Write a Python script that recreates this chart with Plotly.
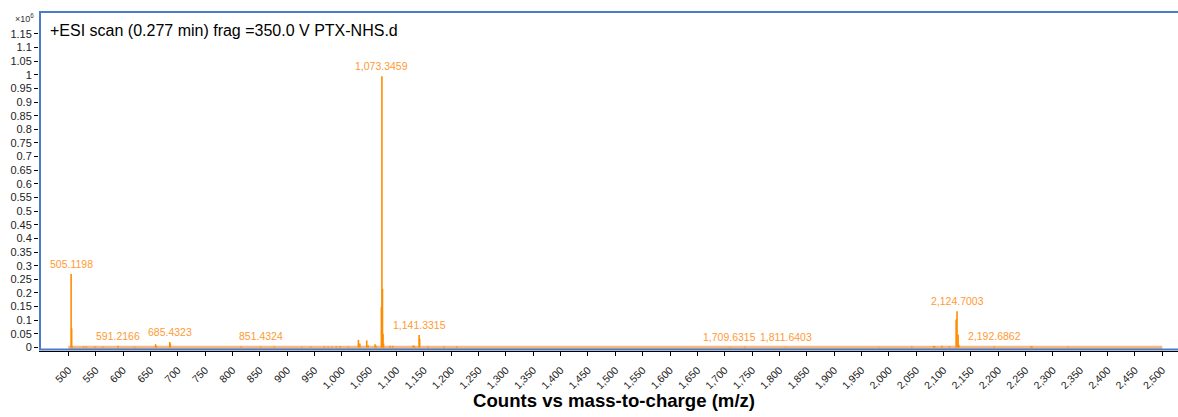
import plotly.graph_objects as go

# ---- data (counts in units of 1e6) ----
peak_mz = [505.1198, 506.12, 507.1, 528, 533, 549, 563, 591.2166, 621, 659.5, 661,
           685.4323, 686.43, 816, 851.4324, 876.8, 926.8, 943, 968, 975, 982, 990,
           996.8, 1012, 1030.3, 1033, 1045.5, 1048, 1060.7, 1062.5, 1072.34,
           1073.3459, 1074.35, 1075.35, 1076.35, 1088, 1093, 1130.7, 1133,
           1141.3315, 1142.33, 1158, 1187, 1210, 1709.6315, 1736.5, 1811.6403,
           1983, 2042, 2082, 2084, 2097, 2111, 2123.1, 2124.7003, 2126.7, 2128,
           2192.6862, 2260, 2262, 2327.7]
peak_int = [0.27, 0.07, 0.005, 0.004, 0.004, 0.004, 0.003, 0.006, 0.003, 0.012, 0.005,
            0.02, 0.015, 0.004, 0.004, 0.004, 0.003, 0.004, 0.004, 0.004, 0.004, 0.004,
            0.005, 0.004, 0.028, 0.015, 0.026, 0.008, 0.012, 0.006, 0.148,
            0.995, 0.215, 0.05, 0.015, 0.006, 0.006, 0.008, 0.005,
            0.046, 0.032, 0.004, 0.004, 0.004, 0.002, 0.003, 0.002,
            0.002, 0.004, 0.006, 0.005, 0.006, 0.005, 0.103, 0.133, 0.048, 0.01,
            0.004, 0.005, 0.004, 0.003]

label_mz = [505.1198, 591.2166, 685.4323, 851.4324, 1073.3459, 1141.3315,
            1709.6315, 1811.6403, 2124.7003, 2192.6862]
label_int = [0.27, 0.006, 0.02, 0.004, 0.995, 0.046, 0.002, 0.002, 0.133, 0.004]
label_text = ["505.1198", "591.2166", "685.4323", "851.4324", "1,073.3459",
              "1,141.3315", "1,709.6315", "1,811.6403", "2,124.7003", "2,192.6862"]

baseline_mz = [500, 2500]
baseline_int = [0, 0]

xtick_vals = [500, 550, 600, 650, 700, 750, 800, 850, 900, 950, 1000, 1050, 1100,
              1150, 1200, 1250, 1300, 1350, 1400, 1450, 1500, 1550, 1600, 1650,
              1700, 1750, 1800, 1850, 1900, 1950, 2000, 2050, 2100, 2150, 2200,
              2250, 2300, 2350, 2400, 2450, 2500]
ytick_vals = [0, 0.05, 0.1, 0.15, 0.2, 0.25, 0.3, 0.35, 0.4, 0.45, 0.5, 0.55,
              0.6, 0.65, 0.7, 0.75, 0.8, 0.85, 0.9, 0.95, 1, 1.05, 1.1, 1.15]
ytick_text = ["0", "0.05", "0.1", "0.15", "0.2", "0.25", "0.3", "0.35", "0.4",
              "0.45", "0.5", "0.55", "0.6", "0.65", "0.7", "0.75", "0.8", "0.85",
              "0.9", "0.95", "1", "1.05", "1.1", "1.15"]

title_text = "+ESI scan (0.277 min) frag =350.0 V PTX-NHS.d"
xaxis_title = "Counts vs mass-to-charge (m/z)"

FONT = "Liberation Sans, Arial, sans-serif"
STICK = "#FF8C00"
LABEL = "#FF9A33"
BLUE = "#4A7CC9"

# build stick coordinates
sx, sy = [], []
for m, h in zip(peak_mz, peak_int):
    sx += [m, m, None]
    sy += [0, h, None]

fig = go.Figure()
fig.add_trace(go.Scatter(x=baseline_mz, y=baseline_int, mode="lines",
                         line=dict(color="#F3B982", width=3.5),
                         hoverinfo="skip", showlegend=False))
fig.add_trace(go.Scatter(x=sx, y=sy, mode="lines",
                         line=dict(color=STICK, width=1.6),
                         showlegend=False))

for m, h, t in zip(label_mz, label_int, label_text):
    fig.add_annotation(x=m, y=h, text=t, showarrow=False, xanchor="center",
                       yanchor="bottom", yshift=2,
                       font=dict(family=FONT, size=10.5, color=LABEL))

fig.add_annotation(xref="paper", yref="paper", x=(48 - 39) / 1139,
                   y=(351 - 30) / 340, text=title_text, showarrow=False,
                   xanchor="left", yanchor="middle",
                   font=dict(family=FONT, size=16, color="#000000"))
fig.add_annotation(xref="paper", yref="paper", x=(614 - 39) / 1139,
                   y=(351 - 400) / 340, text="<b>" + xaxis_title + "</b>",
                   showarrow=False, xanchor="center", yanchor="middle",
                   font=dict(family=FONT, size=18.6, color="#000000"))
fig.add_annotation(xref="paper", yref="paper", x=(24 - 39) / 1139,
                   y=(351 - 18) / 340, text="×10<sup>6</sup>",
                   showarrow=False, xanchor="center", yanchor="middle",
                   font=dict(family=FONT, size=9, color="#333333"))

fig.add_shape(type="rect", xref="paper", yref="paper",
              x0=(40 - 39) / 1139, x1=1.05,
              y0=(351 - 349.5) / 340, y1=(351 - 12) / 340,
              line=dict(color=BLUE, width=2), layer="above")

fig.update_layout(
    width=1178, height=417,
    margin=dict(l=39, r=0, t=11, b=66),
    paper_bgcolor="white", plot_bgcolor="white",
    showlegend=False,
    font=dict(family=FONT, size=11, color="#222222"),
)
fig.update_xaxes(range=[446.4, 2528.7], tickmode="array", tickvals=xtick_vals,
                 tickformat=",d", ticklabelstandoff=4,
                 tickangle=-45, ticks="outside", ticklen=4, tickcolor="#000000",
                 showline=True, linecolor="#000000", linewidth=1,
                 showgrid=False, zeroline=False,
                 tickfont=dict(family=FONT, size=10.5, color="#222222"))
fig.update_yaxes(range=[-0.0128, 1.234], tickmode="array", tickvals=ytick_vals,
                 ticktext=ytick_text, ticks="outside", ticklen=4,
                 tickcolor="#000000", showline=False, showgrid=False,
                 zeroline=False,
                 tickfont=dict(family=FONT, size=11, color="#222222"))

fig.write_html("out.html")
